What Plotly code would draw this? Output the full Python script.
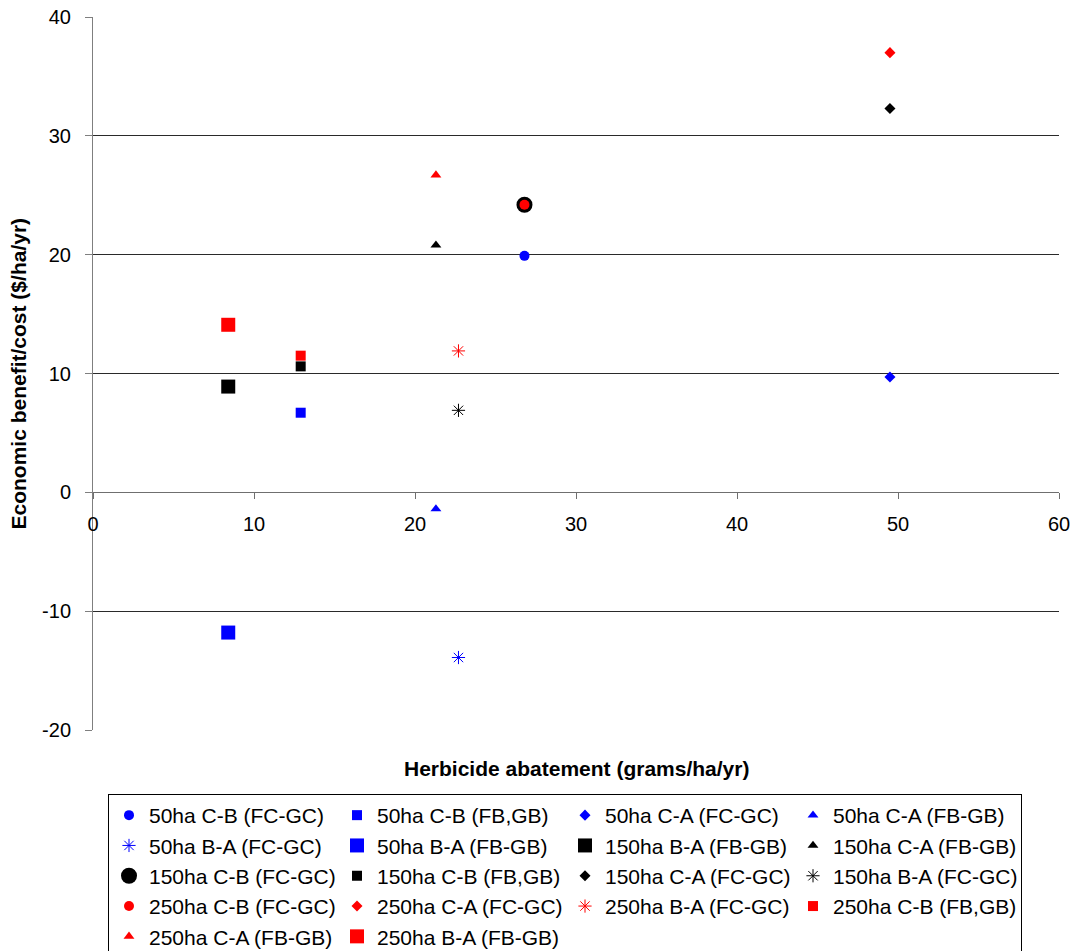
import plotly.graph_objects as go

# Herbicide abatement (grams/ha/yr) and economic benefit/cost ($/ha/yr) per scenario
series_names = [
    "50ha C-B (FC-GC)", "50ha C-B (FB,GB)", "50ha C-A (FC-GC)", "50ha C-A (FB-GB)",
    "50ha B-A (FC-GC)", "50ha B-A (FB-GB)", "150ha B-A (FB-GB)", "150ha C-A (FB-GB)",
    "150ha C-B (FC-GC)", "150ha C-B (FB,GB)", "150ha C-A (FC-GC)", "150ha B-A (FC-GC)",
    "250ha C-B (FC-GC)", "250ha C-A (FC-GC)", "250ha B-A (FC-GC)", "250ha C-B (FB,GB)",
    "250ha C-A (FB-GB)", "250ha B-A (FB-GB)",
]
abatement = [
    26.8, 12.9, 49.5, 21.3,
    22.7, 8.4, 8.4, 21.3,
    26.8, 12.9, 49.5, 22.7,
    26.8, 49.5, 22.7, 12.9,
    21.3, 8.4,
]
benefit = [
    19.9, 6.7, 9.7, -1.4,
    -13.9, -11.8, 8.9, 20.8,
    24.2, 10.6, 32.3, 6.9,
    24.2, 37.0, 11.9, 11.5,
    26.7, 14.1,
]

x_ticks = [0, 10, 20, 30, 40, 50, 60]
y_ticks = [-20, -10, 0, 10, 20, 30, 40]
x_tick_labels = ["0", "10", "20", "30", "40", "50", "60"]
y_tick_labels = ["-20", "-10", "0", "10", "20", "30", "40"]

BLUE, BLACK, RED = "#0000FF", "#000000", "#FF0000"
styles = [
    (BLUE, "circle", 10), (BLUE, "square", 10), (BLUE, "diamond", 8.5), (BLUE, "triangle-up", 9.5),
    (BLUE, "asterisk-open", 11), (BLUE, "square", 14), (BLACK, "square", 14), (BLACK, "triangle-up", 9.5),
    (BLACK, "circle", 16), (BLACK, "square", 10), (BLACK, "diamond", 8.5), (BLACK, "asterisk-open", 11),
    (RED, "circle", 10), (RED, "diamond", 8.5), (RED, "asterisk-open", 11), (RED, "square", 10),
    (RED, "triangle-up", 9.5), (RED, "square", 14),
]

fig = go.Figure()
for name, xv, yv, (col, sym, sz) in zip(series_names, abatement, benefit, styles):
    marker = dict(color=col, symbol=sym, size=sz)
    if sym.endswith("open"):
        marker["line"] = dict(color=col, width=1)
    else:
        marker["line"] = dict(width=0)
    fig.add_trace(go.Scatter(x=[xv], y=[yv], mode="markers", name=name, marker=marker))

FONT = "Liberation Sans, Arial, sans-serif"
L, R, T, B = 93, 1059, 17, 730
W, H = 1077, 951

fig.update_layout(
    width=W, height=H,
    margin=dict(l=L, r=W - R, t=T, b=H - B, autoexpand=False),
    paper_bgcolor="white", plot_bgcolor="white",
    font=dict(family=FONT, size=19, color="black"),
    xaxis=dict(
        range=[0, 60], tickvals=x_ticks, ticktext=x_tick_labels,
        showgrid=False, zeroline=False,
        showline=True, linecolor="#6f6f6f", linewidth=1,
        ticks="outside", ticklen=6, tickcolor="#6f6f6f",
        anchor="free", position=1 / 3, ticklabelstandoff=8,
        tickfont=dict(size=20),
    ),
    yaxis=dict(
        range=[-20, 40], tickvals=y_ticks, ticktext=y_tick_labels,
        showgrid=True, gridcolor="#2a2a2a", gridwidth=1,
        zeroline=False, showline=True, linecolor="#7f7f7f", linewidth=1,
        ticks="outside", ticklen=7, tickcolor="#7f7f7f", ticklabelstandoff=10,
        tickfont=dict(size=20),
    ),
    legend=dict(
        orientation="h", xref="container", yref="container",
        x=108 / W, y=1 - 794 / H, xanchor="left", yanchor="top",
        bordercolor="black", borderwidth=1, font=dict(size=21),
        entrywidth=183, entrywidthmode="pixels", itemsizing="trace",
        tracegroupgap=0,
    ),
    showlegend=True,
)

fig.add_annotation(
    text="<b>Herbicide abatement (grams/ha/yr)</b>", xref="paper", yref="paper",
    x=0.5, y=-(768 - B) / (B - T), xanchor="center", yanchor="middle",
    showarrow=False, font=dict(size=21),
)
fig.add_annotation(
    text="<b>Economic benefit/cost ($/ha/yr)</b>", xref="paper", yref="paper",
    x=-(L - 18) / (R - L), y=0.5, xanchor="center", yanchor="middle",
    textangle=-90, showarrow=False, font=dict(size=21),
)

fig.write_html("out.html")
